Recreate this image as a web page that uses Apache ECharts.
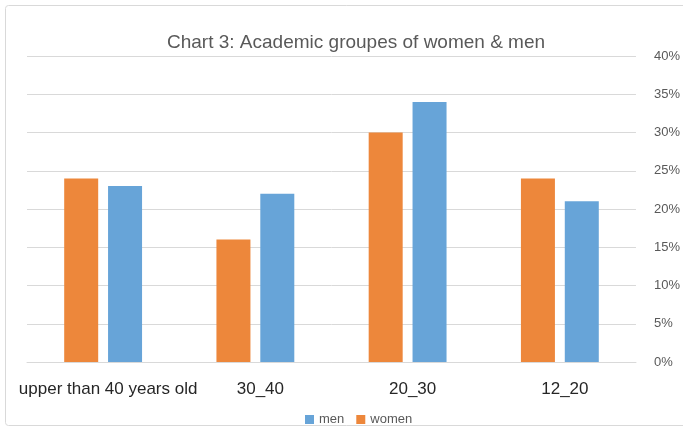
<!DOCTYPE html>
<html><head><meta charset="utf-8">
<script src="https://cdn.jsdelivr.net/npm/echarts@6/dist/echarts.min.js"></script>
<style>html,body{margin:0;padding:0;background:#fff}#c{width:683px;height:432px}</style>
</head><body><div id="c"></div>
<script>
var categories = ['upper than 40 years old', '30_40', '20_30', '12_20'];
var women = [24, 16, 30, 24];
var men = [23, 22, 34, 21];
var yTicks = [0, 5, 10, 15, 20, 25, 30, 35, 40];
var FONT = '"Liberation Sans", sans-serif';
var chart = echarts.init(document.getElementById('c'));
chart.setOption({
  animation: false,
  graphic: [{type:'rect', shape:{x:5.5,y:5.5,width:690,height:420,r:3}, style:{fill:'none', stroke:'#d9d9d9', lineWidth:1}, silent:true}],
  title: {text: 'Chart 3: Academic groupes of women & men', left: 162, top: 28,
    textStyle: {fontFamily: FONT, fontWeight: 'normal', fontSize: 19, color: '#595959'}},
  legend: {data: ['men', 'women'], bottom: 1, left: 300, itemWidth: 9, itemHeight: 9, itemGap: 12,
    icon: 'rect', textStyle: {fontFamily: FONT, fontSize: 13, color: '#595959'}},
  grid: {left: 27, right: 46, top: 56, bottom: 70, containLabel: false},
  xAxis: {type: 'category', data: categories,
    axisLine: {lineStyle: {color: '#d9d9d9'}}, axisTick: {show: false},
    axisLabel: {fontFamily: FONT, fontSize: 17, color: '#262626', margin: 19, interval: 0, padding: [0,0,0,10]}},
  yAxis: {type: 'value', position: 'right', min: 0, max: 40, interval: 5,
    axisLine: {show: false}, axisTick: {show: false},
    splitLine: {lineStyle: {color: '#d9d9d9'}},
    axisLabel: {fontFamily: FONT, fontSize: 13, color: '#595959', margin: 18, formatter: '{value}%'}},
  series: [
    {name: 'women', type: 'bar', data: women, barWidth: 34, barGap: '29%', itemStyle: {color: '#ed873b'}},
    {name: 'men', type: 'bar', data: men, barWidth: 34, itemStyle: {color: '#67a4d8'}}
  ]
});
</script></body></html>
